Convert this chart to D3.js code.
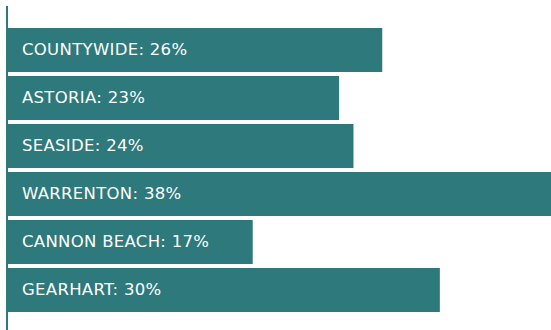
<!DOCTYPE html>
<html>
<head>
<meta charset="utf-8">
<script src="https://cdn.jsdelivr.net/npm/d3@7"></script>
<style>
  body { margin: 0; background: #fff; overflow: hidden; }
  .label { fill: #fff; font-family: "DejaVu Sans", sans-serif; font-size: 16.5px; letter-spacing: 0.3px; }
</style>
</head>
<body>
<div id="chart"></div>
<script>
// data ------------------------------------------------------------------
const places = ['COUNTYWIDE', 'ASTORIA', 'SEASIDE', 'WARRENTON', 'CANNON BEACH', 'GEARHART'];
const shares = [26, 23, 24, 38, 17, 30];

// chart init ------------------------------------------------------------
const margin = ({top: 28, right: 0, bottom: 18, left: 8});
const width = 551;
const height = 330;

const svg = d3.select('#chart')
  .append('svg')
  .attr('width', width)
  .attr('height', height);

const data = places.map((p, i) => ({place: p, value: shares[i]}));

// scales
const xScale = d3.scaleLinear()
  .domain([0, 38])
  .range([margin.left, margin.left + 547]);

const yScale = d3.scaleBand()
  .domain(places)
  .range([margin.top - 2, margin.top - 2 + 48 * places.length])
  .paddingInner(4 / 48)
  .paddingOuter(2 / 48);

// bars
svg.selectAll('rect.bar')
  .data(data)
  .join('rect')
  .attr('class', 'bar')
  .attr('x', xScale(0))
  .attr('y', d => yScale(d.place))
  .attr('width', d => xScale(d.value) - xScale(0))
  .attr('height', yScale.bandwidth())
  .attr('fill', '#2d797c');

// labels
svg.selectAll('text.label')
  .data(data)
  .join('text')
  .attr('class', 'label')
  .attr('x', xScale(0) + 14)
  .attr('y', d => yScale(d.place) + yScale.bandwidth() / 2 + 5)
  .text(d => d.place + ': ' + d.value + '%');

// axis line
const yAxis = d3.axisLeft(yScale).tickSize(0).tickFormat('');
svg.append('g')
  .attr('class', 'axis y-axis')
  .attr('transform', 'translate(' + (margin.left - 1) + ',0)')
  .call(yAxis)
  .call(g => g.select('.domain')
    .attr('d', 'M0,6V' + height)
    .attr('stroke', '#2d797c')
    .attr('stroke-width', 2));
</script>
</body>
</html>
